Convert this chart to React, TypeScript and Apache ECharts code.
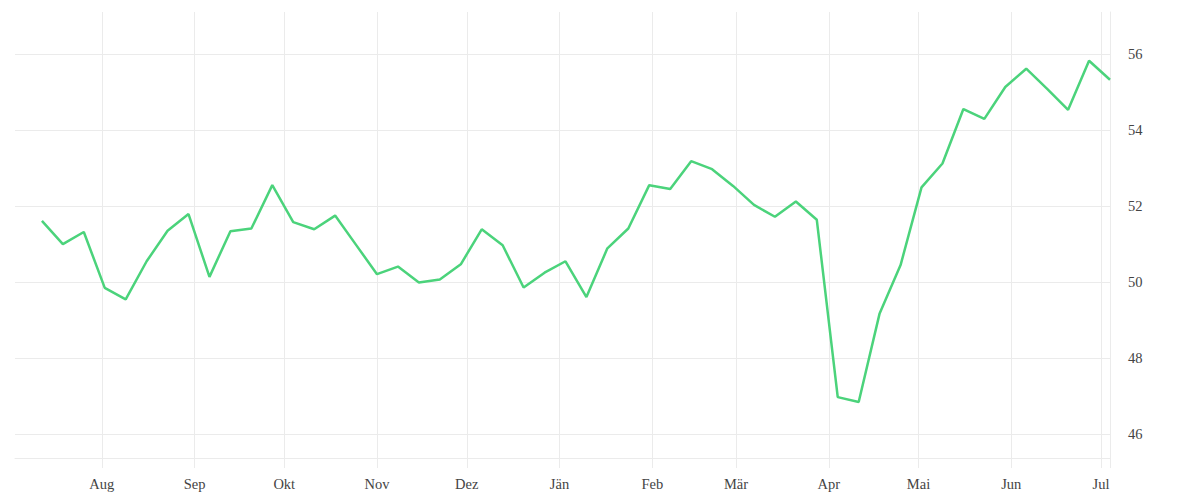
import React, { useEffect, useRef } from "react";
import * as echarts from "echarts";

const weekDates: string[] = [
  "2018-07-12", "2018-07-19", "2018-07-26", "2018-08-02", "2018-08-09", "2018-08-16",
  "2018-08-23", "2018-08-30", "2018-09-06", "2018-09-13", "2018-09-20", "2018-09-27",
  "2018-10-04", "2018-10-11", "2018-10-18", "2018-10-25", "2018-11-01", "2018-11-08",
  "2018-11-15", "2018-11-22", "2018-11-29", "2018-12-06", "2018-12-13", "2018-12-20",
  "2018-12-27", "2019-01-03", "2019-01-10", "2019-01-17", "2019-01-24", "2019-01-31",
  "2019-02-07", "2019-02-14", "2019-02-21", "2019-02-28", "2019-03-07", "2019-03-14",
  "2019-03-21", "2019-03-28", "2019-04-04", "2019-04-11", "2019-04-18", "2019-04-25",
  "2019-05-02", "2019-05-09", "2019-05-16", "2019-05-23", "2019-05-30", "2019-06-06",
  "2019-06-13", "2019-06-20", "2019-06-27", "2019-07-04",
];

const values: number[] = [
  51.61, 51.0, 51.32, 49.85, 49.55, 50.55,
  51.35, 51.79, 50.14, 51.34, 51.41, 52.55,
  51.58, 51.39, 51.75, 50.98, 50.21, 50.41,
  49.99, 50.07, 50.47, 51.39, 50.97, 49.86,
  50.25, 50.55, 49.61, 50.89, 51.41, 52.55,
  52.45, 53.18, 52.97, 52.53, 52.03, 51.72,
  52.12, 51.64, 46.98, 46.85, 49.18, 50.45,
  52.49, 53.12, 54.55, 54.29, 55.13, 55.61,
  55.08, 54.53, 55.82, 55.32,
];

const monthTicks: string[] = [
  "2018-08-01", "2018-09-01", "2018-10-01", "2018-11-01", "2018-12-01", "2019-01-01",
  "2019-02-01", "2019-03-01", "2019-04-01", "2019-05-01", "2019-06-01", "2019-07-01",
];

const monthNames: string[] = [
  "Jän", "Feb", "Mär", "Apr", "Mai", "Jun", "Jul", "Aug", "Sep", "Okt", "Nov", "Dez",
];

const yTicks: number[] = [46, 48, 50, 52, 54, 56];

const xMin = "2018-07-03";
const xMax = "2019-07-04";
const yMin = 45.38;
const yMax = 57.1;

const toTs = (s: string) => {
  const [y, m, d] = s.split("-").map(Number);
  return new Date(y, m - 1, d).getTime();
};

export default function App() {
  const ref = useRef<HTMLDivElement>(null);

  useEffect(() => {
    if (!ref.current) return;
    const chart = echarts.init(ref.current, null, { renderer: "svg" });
    const gridColor = "#ebebeb";
    const fontFamily = "'Liberation Serif', 'DejaVu Serif', serif";
    const tickTs = monthTicks.map(toTs);
    chart.setOption({
      animation: false,
      backgroundColor: "#ffffff",
      grid: { left: 15, right: 90, top: 12, bottom: 42, containLabel: false },
      xAxis: {
        type: "value",
        min: toTs(xMin),
        max: toTs(xMax),
        axisLine: { show: true, lineStyle: { color: gridColor, width: 1 } },
        axisTick: {
          show: true,
          length: 10,
          lineStyle: { color: gridColor, width: 1 },
          customValues: [...tickTs, toTs(xMax)],
        },
        splitLine: { show: true, lineStyle: { color: gridColor, width: 1 } },
        axisLabel: {
          customValues: tickTs,
          formatter: (v: number) => monthNames[new Date(v).getMonth()],
          color: "#444444",
          fontFamily,
          fontSize: 14.5,
          margin: 18,
          showMinLabel: true,
          showMaxLabel: true,
        },
      },
      yAxis: {
        type: "value",
        position: "right",
        min: yMin,
        max: yMax,
        axisLine: { show: true, lineStyle: { color: gridColor, width: 1 } },
        axisTick: { show: false, customValues: yTicks },
        splitLine: { show: true, lineStyle: { color: gridColor, width: 1 } },
        axisLabel: {
          customValues: yTicks,
          formatter: (v: number) => String(v),
          color: "#444444",
          fontFamily,
          fontSize: 14.5,
          margin: 18,
          padding: [4, 0, 0, 0],
        },
      },
      series: [
        {
          type: "line",
          data: weekDates.map((d, i) => [toTs(d), values[i]]),
          symbol: "none",
          clip: false,
          lineStyle: { color: "#4bd37b", width: 2.5 },
        },
      ],
    });
    return () => chart.dispose();
  }, []);

  return (
    <div
      ref={ref}
      style={{ position: "fixed", left: 0, top: 0, width: 1200, height: 500 }}
    />
  );
}
